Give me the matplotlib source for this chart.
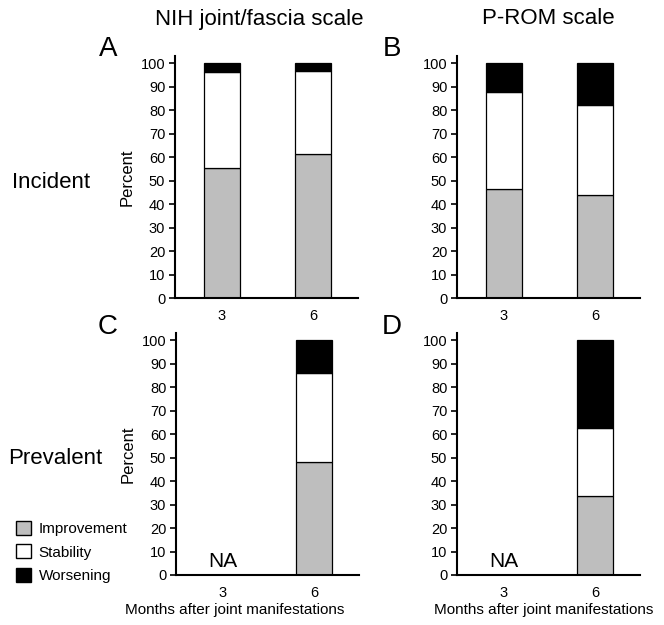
import matplotlib.pyplot as plt
from matplotlib.patches import Patch

plt.rcParams['font.family'] = ['Liberation Sans', 'DejaVu Sans']

# Monate nach Gelenkmanifestation
months = ['3', '6']

# Prozentwerte je Panel: Verbesserung, Stabilitaet, Verschlechterung
a_improve = [55.5, 61.5]
a_stable = [40.5, 35.0]
a_worse = [4.0, 3.5]

b_improve = [46.5, 44.0]
b_stable = [41.0, 38.0]
b_worse = [12.5, 18.0]

c_improve = [0, 48.0]
c_stable = [0, 38.0]
c_worse = [0, 14.0]

d_improve = [0, 33.5]
d_stable = [0, 29.0]
d_worse = [0, 37.5]

yticks = list(range(0, 101, 10))

fig = plt.figure(figsize=(6.64, 6.25), dpi=100)

W = 183 / 664
H = 242 / 625
axA = fig.add_axes([175 / 664, 1 - 298 / 625, W, H])
axB = fig.add_axes([457 / 664, 1 - 298 / 625, W, H])
axC = fig.add_axes([176 / 664, 1 - 575 / 625, W, H])
axD = fig.add_axes([457 / 664, 1 - 575 / 625, W, H])


def stacked(ax, imp, sta, wor, na=False, ylabel=True, xlabel=None):
    x = [0, 1]
    kw = dict(width=0.4, edgecolor='black', linewidth=0.9)
    if na:
        ax.bar(x[1:], imp[1:], color='#bebebe', **kw)
        ax.bar(x[1:], sta[1:], bottom=imp[1:], color='white', **kw)
        ax.bar(x[1:], wor[1:], bottom=[i + s for i, s in zip(imp[1:], sta[1:])],
               color='black', **kw)
        ax.text(0, 1.5, 'NA', ha='center', va='bottom', fontsize=15)
    else:
        ax.bar(x, imp, color='#bebebe', **kw)
        ax.bar(x, sta, bottom=imp, color='white', **kw)
        ax.bar(x, wor, bottom=[i + s for i, s in zip(imp, sta)], color='black', **kw)
    ax.set_xlim(-0.516, 1.495)
    ax.set_ylim(0, 103)
    ax.set_yticks(yticks)
    ax.set_xticks([0, 1])
    ax.set_xticklabels(months)
    ax.tick_params(axis='y', length=4, width=1.2, labelsize=10.5, pad=3)
    ax.tick_params(axis='x', length=0, labelsize=10.5, pad=8)
    for s in ['top', 'right']:
        ax.spines[s].set_visible(False)
    for s in ['left', 'bottom']:
        ax.spines[s].set_linewidth(1.5)
    if ylabel:
        ax.set_ylabel('Percent', fontsize=12, labelpad=4)
    if xlabel is not None:
        ax.set_xlabel('Months after joint manifestations', fontsize=11)
        ax.xaxis.set_label_coords(xlabel, -0.115)


stacked(axA, a_improve, a_stable, a_worse)
stacked(axB, b_improve, b_stable, b_worse, ylabel=False)
stacked(axC, c_improve, c_stable, c_worse, na=True, xlabel=0.322)
stacked(axD, d_improve, d_stable, d_worse, na=True, ylabel=False, xlabel=0.475)

# Spaltentitel, Panelbuchstaben, Zeilenbeschriftungen
fig.text(259 / 664, 1 - 20 / 625, 'NIH joint/fascia scale', ha='center', va='center', fontsize=16)
fig.text(548 / 664, 1 - 19 / 625, 'P-ROM scale', ha='center', va='center', fontsize=16)
fig.text(108 / 664, 1 - 49 / 625, 'A', ha='center', va='center', fontsize=20)
fig.text(392 / 664, 1 - 49 / 625, 'B', ha='center', va='center', fontsize=20)
fig.text(108 / 664, 1 - 327 / 625, 'C', ha='center', va='center', fontsize=20)
fig.text(392 / 664, 1 - 327 / 625, 'D', ha='center', va='center', fontsize=20)
fig.text(12 / 664, 1 - 182 / 625, 'Incident', ha='left', va='center', fontsize=16)
fig.text(8 / 664, 1 - 458 / 625, 'Prevalent', ha='left', va='center', fontsize=16)

handles = [Patch(facecolor='#bebebe', edgecolor='black', label='Improvement'),
           Patch(facecolor='white', edgecolor='black', label='Stability'),
           Patch(facecolor='black', edgecolor='black', label='Worsening')]
fig.legend(handles=handles, loc='center left', bbox_to_anchor=(8 / 664, 1 - 552 / 625),
           frameon=False, fontsize=11, handlelength=1.0, handleheight=1.0,
           handletextpad=0.5, labelspacing=0.55, borderpad=0)

fig.savefig('out.png', dpi=100)
